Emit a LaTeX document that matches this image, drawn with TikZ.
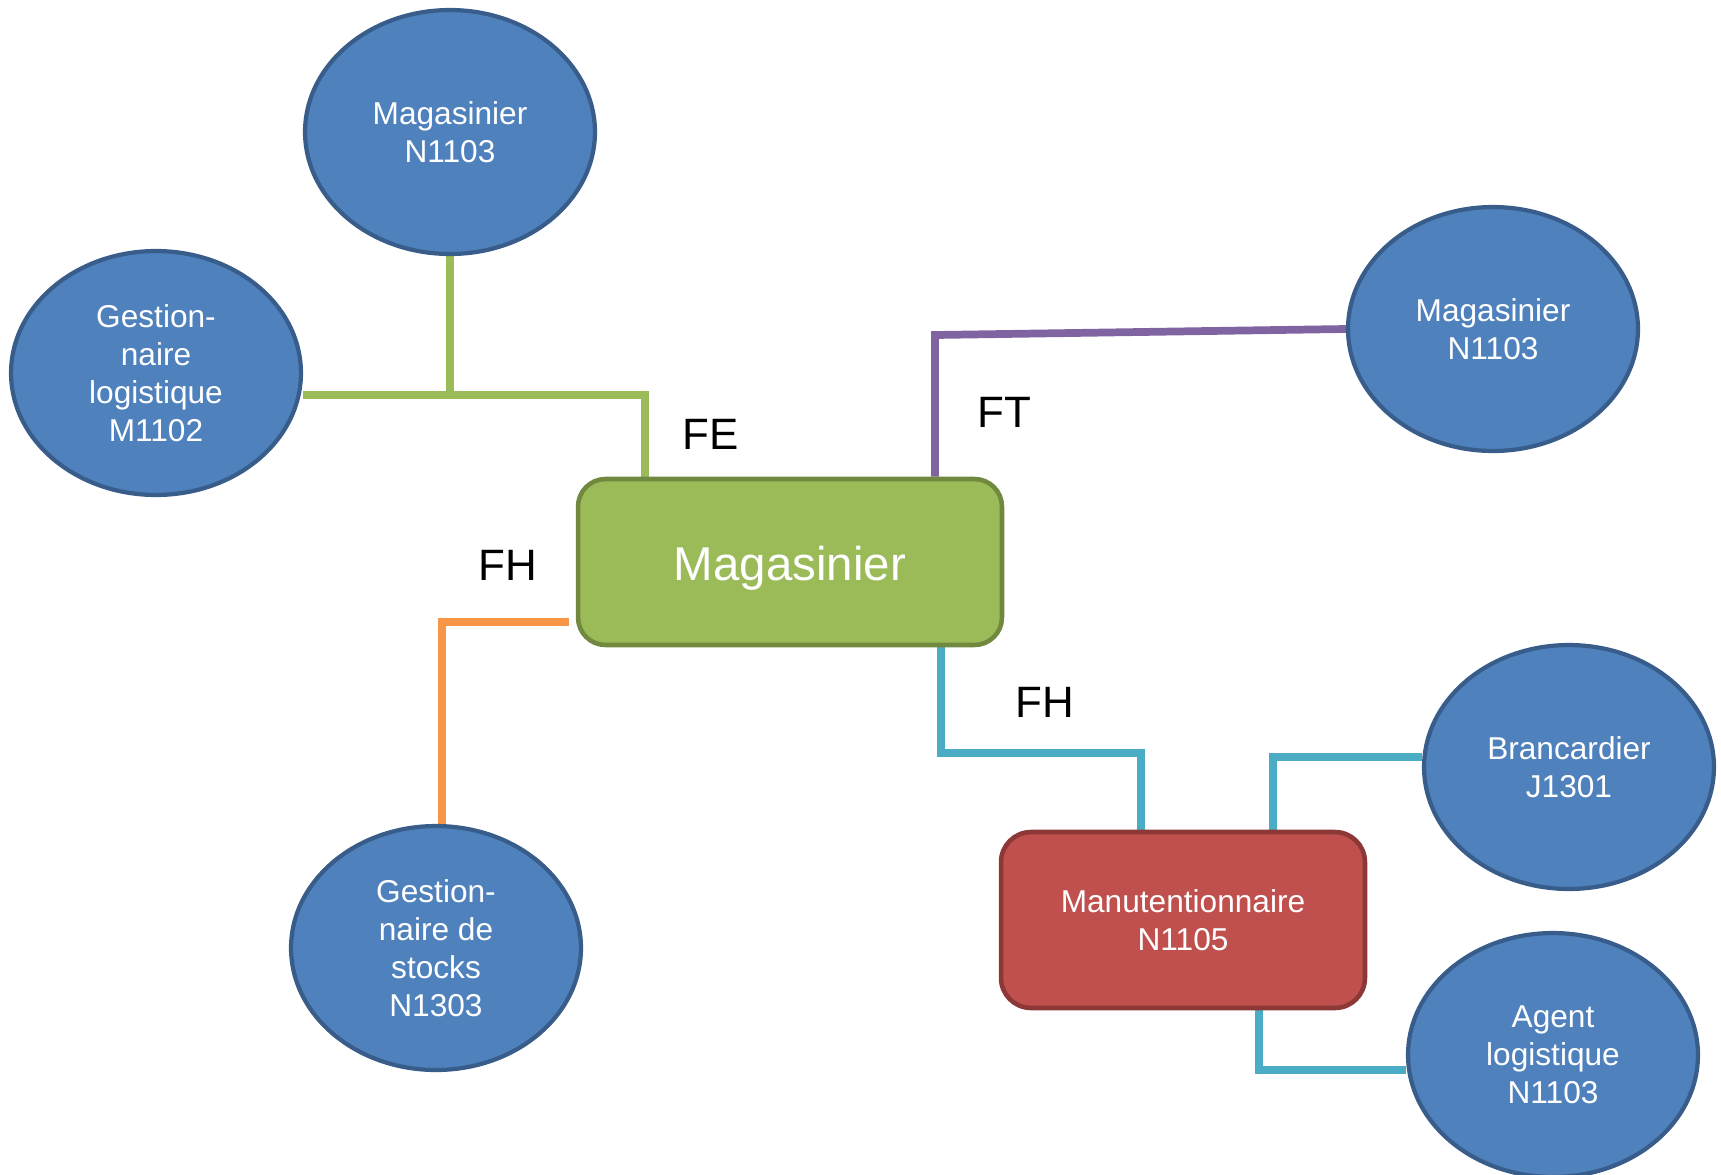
\documentclass[tikz,border=0pt]{standalone}
\usepackage{fontspec}
\setmainfont{Liberation Sans}
\usetikzlibrary{shapes.geometric}
\definecolor{bluefill}{HTML}{4F81BD}
\definecolor{blueline}{HTML}{385D8A}
\definecolor{greenfill}{HTML}{9BBB59}
\definecolor{greenline}{HTML}{71893F}
\definecolor{redfill}{HTML}{C0504D}
\definecolor{redline}{HTML}{8C3836}
\definecolor{linkpurple}{HTML}{8064A2}
\definecolor{linkorange}{HTML}{F79646}
\definecolor{linkteal}{HTML}{4BACC6}
\pgfdeclarelayer{background}
\pgfsetlayers{background,main}
\tikzset{
  metier/.style={ellipse, draw=blueline, fill=bluefill, line width=2.4pt,
    minimum width=5.8cm, minimum height=4.88cm, inner sep=0pt,
    text=white, align=center, font=\fontsize{18}{21.6}\selectfont},
  centre/.style={rectangle, rounded corners=0.55cm, draw=greenline, fill=greenfill,
    line width=2.6pt, minimum width=8.48cm, minimum height=3.32cm,
    text height=0.94cm, text depth=0.2cm,
    text=white, font=\fontsize{27}{32}\selectfont},
  manu/.style={rectangle, rounded corners=0.6cm, draw=redline, fill=redfill,
    line width=2.6pt, minimum width=7.28cm, minimum height=3.52cm,
    text=white, align=center, font=\fontsize{18}{21.6}\selectfont},
  flabel/.style={font=\fontsize{25}{30}\selectfont},
  link/.style={line width=4.4pt}
}
\begin{document}
\begin{tikzpicture}[x=0.02cm,y=-0.02cm]
\useasboundingbox (0,0) rectangle (1721,1174);
% metiers
\node[metier] (magN) at (450,132) {Magasinier\\N1103};
\node[metier] (gestM) at (156,373) {Gestion-\\naire\\logistique\\M1102};
\node[metier] (magT) at (1493,329) {Magasinier\\N1103};
\node[metier] (gestS) at (436,948) {Gestion-\\naire de\\stocks\\N1303};
\node[metier] (branc) at (1569,767) {Brancardier\\J1301};
\node[metier] (agent) at (1553,1055) {Agent\\logistique\\N1103};
% boxes
\node[centre] (mag) at (790,562) {Magasinier};
\node[manu] (manut) at (1183,920) {Manutentionnaire\\N1105};
% labels
\node[flabel] (lblFE) at (711,434) {FE};
\node[flabel] (lblFT) at (1004,412) {FT};
\node[flabel] (lblFHa) at (508,565) {FH};
\node[flabel] (lblFHb) at (1045,702) {FH};
% junctions
\coordinate (jE) at (645,395);
\coordinate (jT) at (935,335);
\coordinate (jH) at (442,622);
\coordinate (jA) at (941,753);
\coordinate (jB) at (1141,753);
\coordinate (jC) at (1273,757);
\coordinate (jD) at (1259,1070);
\begin{pgfonlayer}{background}
\draw[link, greenfill] (magN.south) -- (magN.south |- jE);
\draw[link, greenfill] (gestM.east |- jE) -- (jE) -- (jE |- mag.north);
\draw[link, linkpurple] (jT |- mag.north) -- (jT) -- (magT.west);
\draw[link, linkorange] ([xshift=-0.14cm]mag.west |- jH) -- (jH) -- (jH |- gestS.north);
\draw[link, linkteal] (jA |- mag.south) -- (jA) -- (jB) -- (jB |- manut.north);
\draw[link, linkteal] (jC |- manut.north) -- (jC) -- (jC -| branc.west);
\draw[link, linkteal] (jD |- manut.south) -- (jD) -- (jD -| agent.west);
\end{pgfonlayer}
\end{tikzpicture}
\end{document}
